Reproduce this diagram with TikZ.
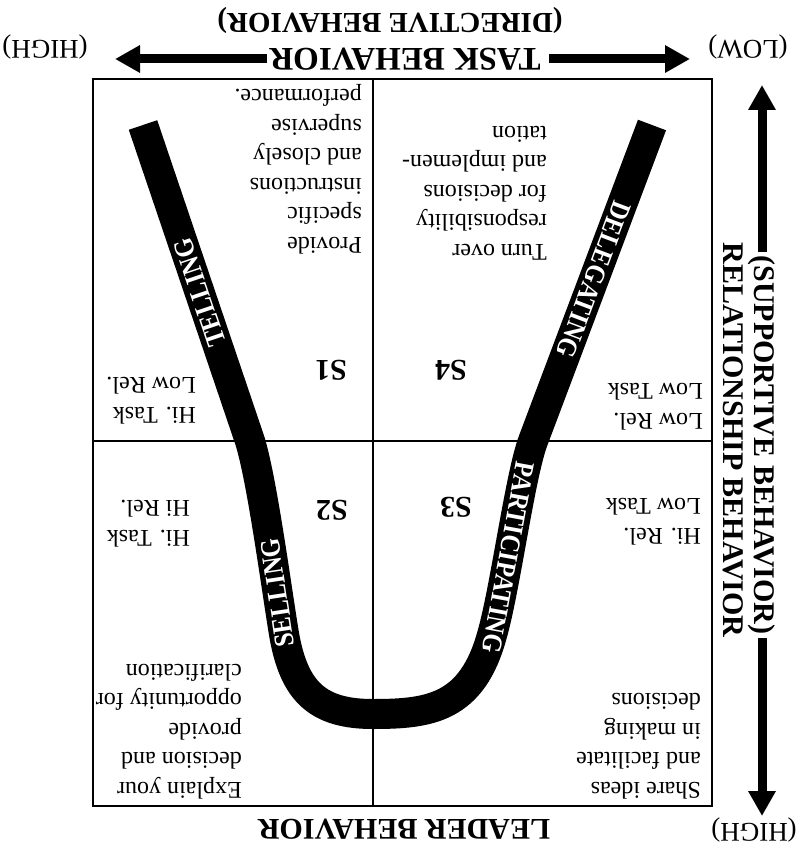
\documentclass[tikz,border=0pt]{standalone}
\usepackage{fontspec}
\usepackage{graphicx}
\setmainfont{Liberation Serif}
\usetikzlibrary{arrows.meta}
\newcommand{\bandword}[1]{\scalebox{0.88}[1]{#1}}
\begin{document}
\begin{tikzpicture}[x=1pt,y=-1pt,
  qtext/.style={rotate=180, align=left, inner sep=0pt, anchor=north west, font=\fontsize{24}{29.5}\selectfont},
  slabel/.style={rotate=180, inner sep=0pt, font=\bfseries\fontsize{30}{34}\selectfont},
  head/.style={inner sep=0pt, font=\bfseries\fontsize{30}{34}\selectfont},
  plain/.style={inner sep=0pt, font=\fontsize{27}{30}\selectfont},
  band/.style={line width=30pt, line join=round, black},
  bandtext/.style={sloped, allow upside down, text=white, inner sep=0pt, font=\bfseries\fontsize{28}{30}\selectfont},
  bigarrow/.style={line width=9pt, -{Triangle[length=25pt,width=26pt]}}]
\fill[white] (0,0) rectangle (799,848);
\useasboundingbox (0,0) rectangle (799,848);

% box and quadrant lines
\draw[line width=2pt] (93,79) rectangle (712,806);
\draw[line width=1.6pt] (373,79) -- (373,806);
\draw[line width=1.6pt] (93,441) -- (712,441);

% quadrant texts
\node[qtext] (s1t) at (362,254) {Provide\\specific\\instructions\\and closely\\supervise\\performance.};
\node[qtext] (s4t) at (547,260) {Turn over\\responsibility\\for decisions\\and implemen-\\tation};
\node[qtext] (s2t) at (242,799) {Explain your\\decision and\\provide\\opportunity for\\clarification};
\node[qtext] (s3t) at (701,799) {Share ideas\\and facilitate\\in making\\decisions};
\node[qtext] (s1l) at (196,424) {Hi. Task\\Low Rel.};
\node[qtext] (s4l) at (703,430) {Low Rel.\\Low Task};
\node[qtext] (s2l) at (190,547) {Hi. Task\\Hi Rel.};
\node[qtext] (s3l) at (701,545) {Hi. Rel.\\Low Task};

\node[slabel] (s1) at (331,370) {S1};
\node[slabel] (s4) at (451,370) {S4};
\node[slabel] (s2) at (332,510) {S2};
\node[slabel] (s3) at (456,507) {S3};

% the band
\draw[band] (652,125) -- (533,441) node[bandtext,pos=0.49] {\bandword{DELEGATING}}
  .. controls (520,476) and (505,590) .. (492,635) node[bandtext,pos=0.6] {\bandword{PARTICIPATING}}
  .. controls (472,708) and (430,714) .. (373,714)
  .. controls (318,714) and (294,692) .. (284,634)
  .. controls (276,585) and (262,480) .. (250,441) node[bandtext,pos=0.23] {\bandword{SELLING}}
  -- (143,125) node[bandtext,pos=0.47] {\bandword{TELLING}};

% top axis
\node[head, rotate=180, font=\bfseries\fontsize{29}{32}\selectfont] (dir) at (390,20) {(DIRECTIVE BEHAVIOR)};
\node[head, rotate=180, inner xsep=2pt, font=\bfseries\fontsize{33}{36}\selectfont] (task) at (405,59) {TASK BEHAVIOR};
\coordinate (tl) at (115,59);
\coordinate (tr) at (690,59);
\draw[bigarrow] (task.east) -- (tl);
\draw[bigarrow] ([xshift=6pt]task.west) -- (tr);
\node[plain, rotate=180] (hightop) at (45,47) {(HIGH)};
\node[plain, rotate=180] (lowtop) at (748,47) {(LOW)};

% right axis
\node[head, rotate=-90, inner xsep=3pt] (sup) at (762,445) {(SUPPORTIVE BEHAVIOR)};
\node[head, rotate=-90] (rel) at (733,440) {RELATIONSHIP BEHAVIOR};
\coordinate (rt) at (762,85);
\coordinate (rb) at (762,816);
\draw[bigarrow] (sup.west) -- (rt);
\draw[bigarrow] (sup.east) -- (rb);

% bottom
\node[head, rotate=180] (leader) at (404,829) {LEADER BEHAVIOR};
\node[plain, rotate=180] (highbot) at (754,830) {(HIGH)};
\end{tikzpicture}
\end{document}
